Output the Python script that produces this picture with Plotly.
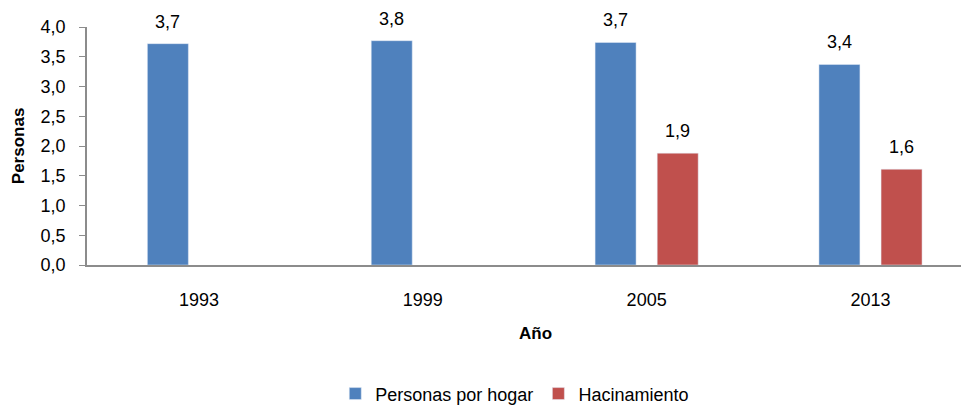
import plotly.graph_objects as go

years = ["1993", "1999", "2005", "2013"]
personas_por_hogar = [3.72, 3.77, 3.74, 3.37]
hacinamiento = [None, None, 1.88, 1.61]
y_ticks = [0, 0.5, 1, 1.5, 2, 2.5, 3, 3.5, 4]

font_family = "Liberation Sans, Arial, sans-serif"

fig = go.Figure()
fig.add_trace(go.Bar(x=years, y=personas_por_hogar, name="Personas por hogar",
                     marker=dict(color="#4F81BD")))
fig.add_trace(go.Bar(x=years, y=hacinamiento, name="Hacinamiento",
                     marker=dict(color="#C0504D")))


def fmt(v):
    return f"{v:.1f}".replace(".", ",")


annotations = []
for series, shift in ((personas_por_hogar, -31), (hacinamiento, 31)):
    for i, v in enumerate(series):
        if v is None:
            continue
        annotations.append(dict(
            x=i, y=v, xref="x", yref="y", text=fmt(v), showarrow=False,
            xanchor="center", yanchor="bottom", xshift=shift, yshift=10,
            font=dict(size=18, color="#000000"),
        ))

annotations += [
    dict(text="<b>Año</b>", xref="paper", yref="paper", x=0.508, y=-0.286,
         xanchor="center", yanchor="middle", showarrow=False, font=dict(size=17)),
    dict(text="<b>Personas</b>", xref="paper", yref="paper", x=-0.078, y=0.5,
         xanchor="center", yanchor="middle", showarrow=False, textangle=-90,
         font=dict(size=17)),
]

# page body has an 8px default margin, so the figure is sized to fit the window
fig.update_layout(
    width=961, height=397,
    margin=dict(l=79, r=0, t=19, b=140),
    paper_bgcolor="white", plot_bgcolor="white",
    separators=",.",
    barmode="group", bargap=0.445, bargroupgap=0.34,
    font=dict(family=font_family, size=18, color="#000000"),
    showlegend=True,
    legend=dict(orientation="h", x=0.485, xanchor="center",
                yref="container", y=0.028, yanchor="middle",
                font=dict(size=18), traceorder="normal"),
    xaxis=dict(
        type="category", range=[-0.5, 3.44], automargin=False,
        showline=True, linecolor="#8C8C8C", linewidth=1.5,
        ticks="", tickfont=dict(size=18), ticklabelstandoff=18,
    ),
    yaxis=dict(
        range=[0, 4], tickvals=y_ticks, tickformat=".1f", automargin=False,
        showline=True, linecolor="#8C8C8C", linewidth=1.5,
        ticks="outside", ticklen=6, tickcolor="#8C8C8C", ticklabelstandoff=10,
        showgrid=False, zeroline=False, tickfont=dict(size=18),
    ),
    annotations=annotations,
)

fig.write_html("out.html")
